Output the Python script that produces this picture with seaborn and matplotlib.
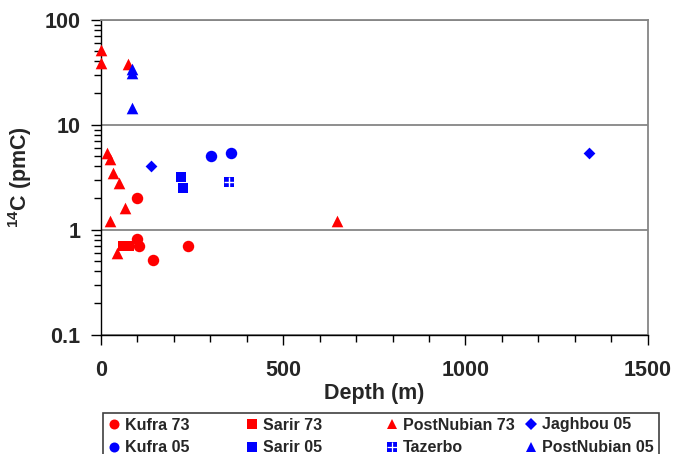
import numpy as np
import pandas as pd
import matplotlib
matplotlib.use('Agg')
import matplotlib.pyplot as plt
import seaborn as sns
from matplotlib.lines import Line2D
from matplotlib.patches import Rectangle
from matplotlib.legend_handler import HandlerTuple
from matplotlib.ticker import LogLocator, MultipleLocator, FuncFormatter, NullFormatter

# depth (m) and 14C (pmC) for each group
kufra73_depth = [100, 100, 105, 142, 239]
kufra73_pmc = [2.0, 0.82, 0.70, 0.51, 0.70]
sarir73_depth = [60, 68, 77]
sarir73_pmc = [0.70, 0.70, 0.70]
postnub73_depth = [0, 0, 73, 16, 25, 32, 50, 65, 25, 45, 647]
postnub73_pmc = [51, 39, 37.5, 5.4, 4.7, 3.45, 2.8, 1.6, 1.2, 0.6, 1.2]
jaghbou05_depth = [137, 1339]
jaghbou05_pmc = [4.0, 5.4]
kufra05_depth = [301, 358]
kufra05_pmc = [5.0, 5.35]
sarir05_depth = [220, 224]
sarir05_pmc = [3.2, 2.5]
tazerbo_depth = [351]
tazerbo_pmc = [2.87]
postnub05_depth = [84, 84, 84]
postnub05_pmc = [33.7, 30.9, 14.3]

# legend order (row by row, as in the figure)
groups = ['Kufra 73', 'Sarir 73', 'PostNubian 73', 'Jaghbou 05',
          'Kufra 05', 'Sarir 05', 'Tazerbo', 'PostNubian 05']

RED = '#FF0000'
BLUE = '#0000FF'

colors = {'Kufra 73': RED, 'Sarir 73': RED, 'PostNubian 73': RED, 'Jaghbou 05': BLUE,
          'Kufra 05': BLUE, 'Sarir 05': BLUE, 'Tazerbo': BLUE, 'PostNubian 05': BLUE}
markers = {'Kufra 73': 'o', 'Sarir 73': 's', 'PostNubian 73': '^', 'Jaghbou 05': 'D',
           'Kufra 05': 'o', 'Sarir 05': 's', 'Tazerbo': 's', 'PostNubian 05': '^'}
sizes = {'o': 68, 's': 58, '^': 70, 'D': 36}

data = [('Kufra 73', kufra73_depth, kufra73_pmc),
        ('Sarir 73', sarir73_depth, sarir73_pmc),
        ('PostNubian 73', postnub73_depth, postnub73_pmc),
        ('Jaghbou 05', jaghbou05_depth, jaghbou05_pmc),
        ('Kufra 05', kufra05_depth, kufra05_pmc),
        ('Sarir 05', sarir05_depth, sarir05_pmc),
        ('Tazerbo', tazerbo_depth, tazerbo_pmc),
        ('PostNubian 05', postnub05_depth, postnub05_pmc)]
df = pd.concat([pd.DataFrame({'Depth': d, 'pmC': p, 'Group': g}) for g, d, p in data],
               ignore_index=True)

sns.set_style('white')
plt.rcParams['font.family'] = ['Liberation Sans', 'DejaVu Sans']
plt.rcParams['font.weight'] = 'bold'
plt.rcParams['mathtext.fontset'] = 'custom'
plt.rcParams['mathtext.rm'] = 'Liberation Sans:bold'
plt.rcParams['mathtext.bf'] = 'Liberation Sans:bold'

fig = plt.figure(figsize=(6.73, 4.54), dpi=100)
ax = fig.add_axes([101 / 673, 1 - 334.7 / 454, (647.7 - 101) / 673, (334.7 - 19.7) / 454])

for g in groups:
    sub = df[df['Group'] == g]
    m = markers[g]
    sns.scatterplot(data=sub, x='Depth', y='pmC', marker=m, color=colors[g],
                    s=sizes[m], linewidth=0, ax=ax, legend=False, zorder=3, clip_on=False)
# Tazerbo: white cross over the square
taz = df[df['Group'] == 'Tazerbo']
ax.scatter(taz['Depth'], taz['pmC'], marker='+', color='white', s=58, linewidths=1.0,
           zorder=4, clip_on=False)

ax.set_yscale('log')
ax.set_ylim(0.1, 100)
ax.set_xlim(0, 1500)
ax.yaxis.set_major_locator(LogLocator(base=10))
ax.yaxis.set_minor_locator(LogLocator(base=10, subs=np.arange(2, 10)))
ax.yaxis.set_major_formatter(FuncFormatter(lambda v, p: '{:g}'.format(v)))
ax.yaxis.set_minor_formatter(NullFormatter())
ax.xaxis.set_major_locator(MultipleLocator(500))
ax.xaxis.set_minor_locator(MultipleLocator(100))

ax.grid(True, axis='y', which='major', color='#868686', linewidth=1.3)
ax.set_axisbelow(True)
for side in ['top', 'right']:
    ax.spines[side].set_color('#868686')
    ax.spines[side].set_linewidth(1.3)
for side in ['left', 'bottom']:
    ax.spines[side].set_color('black')
    ax.spines[side].set_linewidth(1.0)

ax.tick_params(axis='both', which='both', direction='out', color='black', width=1,
               left=True, bottom=True, top=False, right=False)
ax.tick_params(axis='x', which='major', length=7, pad=11.5, labelsize=15.5)
ax.tick_params(axis='x', which='minor', length=5)
ax.tick_params(axis='y', which='major', length=7, pad=8, labelsize=15.5)
ax.tick_params(axis='y', which='minor', length=5)

ax.set_xlabel('Depth (m)', fontsize=15.5, fontweight='bold', labelpad=1)
ax.set_ylabel(r'$^{14}$C (pmC)', fontsize=15.5, fontweight='bold', labelpad=7)

# legend: boxed, four even columns
fig.add_artist(Rectangle((102.7 / 673, -0.02), (659 - 102.7) / 673, 0.02 + (454 - 413.3) / 454,
                         transform=fig.transFigure, fill=False, edgecolor='#404040',
                         linewidth=1.2))
col_x = [114, 252, 392, 531]
for c in range(4):
    hs, labels = [], []
    for g in (groups[c], groups[c + 4]):
        m = markers[g]
        ms = 6.2 if m == 'D' else 7.2
        h = Line2D([], [], linestyle='none', marker=m, color=colors[g],
                   markersize=ms, markeredgewidth=0)
        if g == 'Tazerbo':
            h = (h, Line2D([], [], linestyle='none', marker='+', color='white',
                           markersize=ms, markeredgewidth=0.9))
        hs.append(h)
        labels.append(g)
    fig.legend(hs, labels, loc='upper left',
               bbox_to_anchor=((col_x[c] - 5.4) / 673, 1 - 417.5 / 454),
               handler_map={tuple: HandlerTuple(ndivide=1, pad=0)},
               frameon=False, borderpad=0, borderaxespad=0, handlelength=0.7,
               handletextpad=0.3, labelspacing=0.5,
               prop={'family': 'Liberation Sans', 'weight': 'bold', 'size': 11.5})

fig.savefig('out.png', dpi=100)
